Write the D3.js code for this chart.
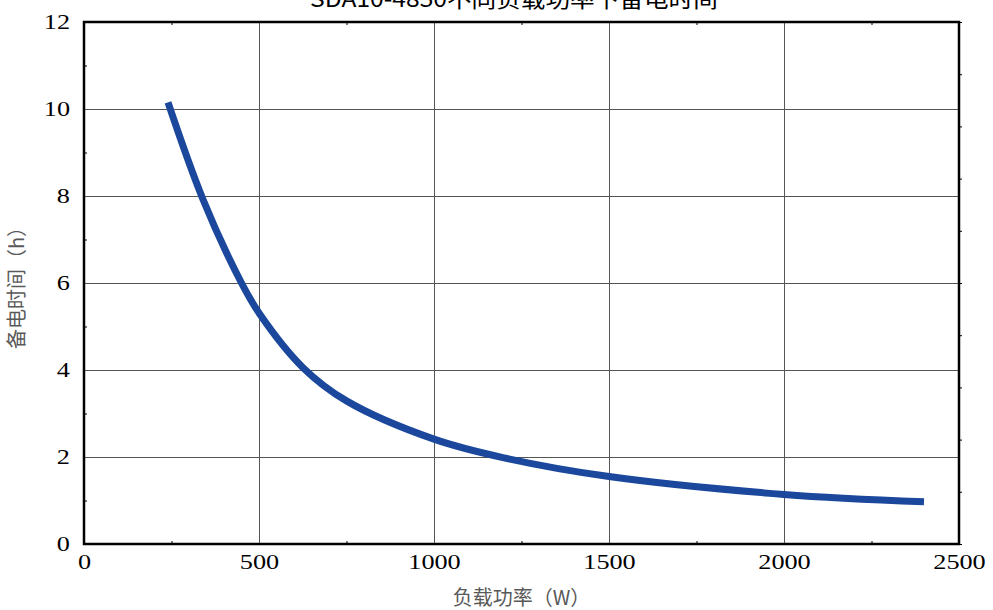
<!DOCTYPE html>
<html>
<head>
<meta charset="utf-8">
<script src="https://cdn.jsdelivr.net/npm/d3@7"></script>
<style>
  body { margin: 0; background: #fff; }
  svg { display: block; }
  .tick-label { font-family: "Liberation Serif", "Times New Roman", serif; font-size: 21px; fill: #000; }
  .axis-title { font-family: "Noto Sans CJK SC", "Noto Sans", sans-serif; font-size: 20px; fill: #595959; }
  .chart-title { font-family: "Noto Sans CJK SC", "Noto Sans", sans-serif; font-size: 22px; fill: #000; }
</style>
</head>
<body>
<div id="chart"></div>
<script>
// Data
const title = "SDA10-4850不同负载功率下备电时间";
const xTitle = "负载功率（W）";
const yTitle = "备电时间（h）";

const loadWatts = [240, 340, 450, 500, 625, 750, 1000, 1200, 1500, 2000, 2400];
const backupHours = [10.15, 7.92, 6.0, 5.31, 4.06, 3.29, 2.41, 1.98, 1.55, 1.14, 0.97];

const xTicks = [0, 500, 1000, 1500, 2000, 2500];
const yTicks = [0, 2, 4, 6, 8, 10, 12];

// Dimensions
const W = 993, H = 610;
const margin = { top: 22, right: 34, bottom: 66, left: 84 };
const width = W - margin.left - margin.right;
const height = H - margin.top - margin.bottom;

const root = d3.select("#chart").append("svg")
    .attr("width", W)
    .attr("height", H);

const svg = root.append("g")
    .attr("transform", `translate(${margin.left},${margin.top})`);

// Scales
const x = d3.scaleLinear().domain([0, 2500]).range([0, width]);
const y = d3.scaleLinear().domain([0, 12]).range([height, 0]);
const yRight = d3.scaleLinear().domain([0, 10]).range([height, 0]);

// Grid lines
svg.append("g")
    .attr("transform", `translate(0,${height})`)
    .call(d3.axisBottom(x).tickValues(xTicks.slice(1, -1)).tickSize(-height).tickFormat(""))
    .call(g => g.select(".domain").remove())
    .call(g => g.selectAll("line").attr("stroke", "#555").attr("stroke-width", 1));

svg.append("g")
    .call(d3.axisLeft(y).tickValues(yTicks.slice(1, -1)).tickSize(-width).tickFormat(""))
    .call(g => g.select(".domain").remove())
    .call(g => g.selectAll("line").attr("stroke", "#555").attr("stroke-width", 1));

// Curve
const pts = loadWatts.map((w, i) => [w, backupHours[i]]);
const line = d3.line()
    .x(d => x(d[0]))
    .y(d => y(d[1]))
    .curve(d3.curveCatmullRom.alpha(0.5));

svg.append("path")
    .datum(pts)
    .attr("fill", "none")
    .attr("stroke", "#1b489c")
    .attr("stroke-width", 7)
    .attr("d", line);

// Minor ticks
const xMinor = d3.range(250, 2500, 500);
const yMinor = d3.range(1, 12, 2);
svg.append("g")
    .attr("transform", `translate(0,${height})`)
    .call(d3.axisTop(x).tickValues(xMinor).tickSize(3).tickFormat(""))
    .call(g => g.select(".domain").remove());
svg.append("g")
    .call(d3.axisBottom(x).tickValues(xMinor).tickSize(3).tickFormat(""))
    .call(g => g.select(".domain").remove());
svg.append("g")
    .call(d3.axisRight(y).tickValues(yMinor).tickSize(3).tickFormat(""))
    .call(g => g.select(".domain").remove());
svg.append("g")
    .attr("transform", `translate(${width},0)`)
    .call(d3.axisRight(yRight).ticks(10).tickSize(3).tickFormat(""))
    .call(g => g.select(".domain").remove());

// Frame
svg.append("rect")
    .attr("width", width)
    .attr("height", height)
    .attr("fill", "none")
    .attr("stroke", "#000")
    .attr("stroke-width", 2.5);

// Tick labels
const xAxis = svg.append("g")
    .attr("transform", `translate(0,${height})`)
    .call(d3.axisBottom(x).tickValues(xTicks).tickFormat(d3.format("d")).tickSize(0).tickPadding(0))
    .call(g => g.select(".domain").remove());
xAxis.selectAll("text")
    .attr("class", "tick-label")
    .attr("y", 0).attr("dy", 0)
    .attr("transform", "translate(0,25) scale(1.25,1)");
xAxis.attr("font-family", null).attr("font-size", null);

const yAxis = svg.append("g")
    .call(d3.axisLeft(y).tickValues(yTicks).tickSize(0).tickPadding(0))
    .call(g => g.select(".domain").remove());
yAxis.selectAll("text")
    .attr("class", "tick-label")
    .attr("x", 0).attr("dy", "0.32em")
    .attr("transform", "translate(-14,0) scale(1.25,1)");
yAxis.attr("font-family", null).attr("font-size", null);

// Titles
root.append("text")
    .attr("class", "chart-title")
    .attr("x", 0).attr("y", 0)
    .attr("text-anchor", "middle")
    .attr("transform", "translate(514,7) scale(1.12,1)")
    .text(title);

root.append("text")
    .attr("class", "axis-title")
    .attr("x", margin.left + width / 2)
    .attr("y", 605)
    .attr("text-anchor", "middle")
    .text(xTitle);

root.append("text")
    .attr("class", "axis-title")
    .attr("transform", `translate(24,${margin.top + 261}) rotate(-90)`)
    .attr("text-anchor", "middle")
    .text(yTitle);
</script>
</body>
</html>
